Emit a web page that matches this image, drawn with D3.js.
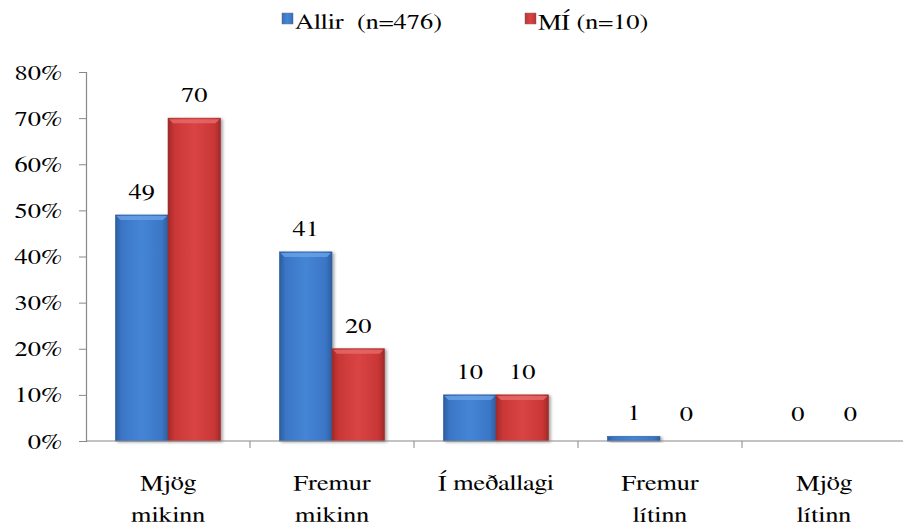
<!DOCTYPE html>
<html><head><meta charset="utf-8">
<script src="https://cdn.jsdelivr.net/npm/d3@7"></script>
<style>body{margin:0;background:#fff;}</style>
</head><body>
<svg id="c" width="903" height="527"></svg>
<script>
const categories = [["Mjög","mikinn"],["Fremur","mikinn"],["Í meðallagi"],["Fremur","lítinn"],["Mjög","lítinn"]];
const seriesNames = ["Allir  (n=476)", "MÍ (n=10)"];
const allir = [49, 41, 10, 1, 0];
const mi = [70, 20, 10, 0, 0];
const yTicks = [0,10,20,30,40,50,60,70,80];

const FONT = "FreeSerif, 'Liberation Serif', 'Times New Roman', serif";
const SX = 1.2, FS = 22;
const svg = d3.select("#c");
const m = {l:86};
const W = 906;
const x0 = d3.scaleBand().domain(d3.range(categories.length)).range([m.l, W]).paddingInner(0).paddingOuter(0);
const x1 = d3.scaleBand().domain([0,1]).range([0, x0.bandwidth()]).paddingInner(0).paddingOuter(0.56);
const y = d3.scaleLinear().domain([0,80]).range([441, 72]);

function stxt(x, yy, str, anchor, fs) {
  const g = svg.append("g").attr("transform", `translate(${x},${yy}) scale(${SX},1)`);
  return g.append("text").attr("x",0).attr("y",0).attr("text-anchor", anchor || "start")
    .attr("font-family", FONT).attr("font-size", (fs||FS) + "px").attr("fill","#000")
    .attr("xml:space","preserve").style("white-space","pre").text(str);
}

const defs = svg.append("defs");
function grad(id, dark, mid, light){
  const g = defs.append("linearGradient").attr("id", id).attr("x1","0").attr("x2","1").attr("y1","0").attr("y2","0");
  g.append("stop").attr("offset","0").attr("stop-color",dark);
  g.append("stop").attr("offset","0.12").attr("stop-color",mid);
  g.append("stop").attr("offset","0.5").attr("stop-color",light);
  g.append("stop").attr("offset","0.88").attr("stop-color",mid);
  g.append("stop").attr("offset","1").attr("stop-color",dark);
}
grad("gb", "#2c5d9e", "#3b76c6", "#4585d6");
grad("gr", "#9e2a2a", "#c93636", "#d94444");
const f = defs.append("filter").attr("id","sh").attr("x","-20%").attr("y","-20%").attr("width","150%").attr("height","150%");
f.append("feDropShadow").attr("dx",2).attr("dy",1).attr("stdDeviation",1.5).attr("flood-color","#000").attr("flood-opacity",0.35);

// y axis
const ya = d3.axisLeft(y).tickValues(yTicks).tickSize(7).tickFormat(d => d + "%");
const yg = svg.append("g").attr("transform",`translate(${m.l},0)`).call(ya).attr("font-family", FONT).attr("font-size", FS);
yg.select(".domain").attr("stroke","#888").attr("stroke-width",1.2);
yg.selectAll(".tick line").attr("stroke","#888");
yg.selectAll(".tick text").attr("x",-24/SX).attr("transform",`scale(${SX},1)`).attr("fill","#000");

const fills = ["url(#gb)","url(#gr)"];
const tops = ["#6aa3e6","#e86a6a"];
const data = [allir, mi];
data.forEach((vals, s) => {
  const g = svg.append("g");
  vals.forEach((v, i) => {
    const bx = x0(i) + x1(s), bw = x1.bandwidth();
    if (v > 0) {
      const h = y(0) - y(v);
      g.append("rect").attr("x",bx).attr("y",y(v)).attr("width",bw).attr("height",h)
        .attr("fill",fills[s]).attr("stroke", s===0?"#2f5f9f":"#a33030").attr("stroke-width",0.6).attr("filter","url(#sh)");
      if (h > 8) {
        g.append("path").attr("d",`M${bx+1},${y(v)+1}L${bx+bw-1},${y(v)+1}L${bx+bw-5},${y(v)+5}L${bx+5},${y(v)+5}Z`)
          .attr("fill",tops[s]).attr("opacity",0.8);
      }
    }
    stxt(bx + bw/2, y(v) - (v>0?16:20), String(v), "middle");
  });
});

// x axis
svg.append("line").attr("x1",m.l).attr("x2",W).attr("y1",y(0)).attr("y2",y(0)).attr("stroke","#888").attr("stroke-width",1.2);
d3.range(1, categories.length).forEach(i => {
  svg.append("line").attr("x1",x0(i)).attr("x2",x0(i)).attr("y1",y(0)).attr("y2",y(0)+7).attr("stroke","#888");
});
categories.forEach((lines, i) => {
  lines.forEach((ln, k) => stxt(x0(i)+x0.bandwidth()/2, 490 + k*32, ln, "middle"));
});

// legend
const leg = [{x:282, c:"url(#gb)", t:seriesNames[0]}, {x:525, c:"url(#gr)", t:seriesNames[1]}];
leg.forEach(l => {
  svg.append("rect").attr("x",l.x).attr("y",13).attr("width",11).attr("height",11).attr("fill",l.c).attr("stroke","#777").attr("stroke-width",0.5);
  stxt(l.x+13, 29, l.t, "start");
});
</script>
</body></html>
